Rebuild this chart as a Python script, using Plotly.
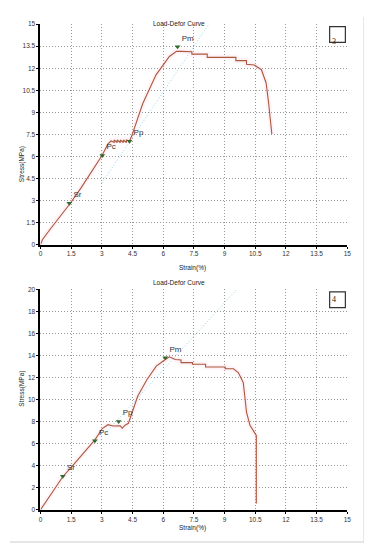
import plotly.graph_objects as go

W, H = 372, 550
OFF = 8  # page body margin

# ---------------- data ----------------
tick_vals_x = [0, 1.5, 3, 4.5, 6, 7.5, 9, 10.5, 12, 13.5, 15]
tick_text_x = ["0", "1.5", "3", "4.5", "6", "7.5", "9", "10.5", "12", "13.5", "15"]
tick_vals_y1 = [0, 1.5, 3, 4.5, 6, 7.5, 9, 10.5, 12, 13.5, 15]
tick_text_y1 = ["0", "1.5", "3", "4.5", "6", "7.5", "9", "10.5", "12", "13.5", "15"]
tick_vals_y2 = [0, 2, 4, 6, 8, 10, 12, 14, 16, 18, 20]
tick_text_y2 = ["0", "2", "4", "6", "8", "10", "12", "14", "16", "18", "20"]

# Specimen 3
strain3 = [0, 0.1, 0.5, 1.0, 1.45, 2.0, 2.5, 3.0, 3.3, 3.45, 3.6, 3.6, 3.75, 3.75, 3.9, 3.9,
           4.05, 4.05, 4.2, 4.2, 4.35, 4.45, 5.0, 5.65, 6.3, 6.65, 6.9, 7.4, 7.4, 8.15, 8.15,
           9.55, 9.55, 10.07, 10.07, 10.45, 10.8, 11.03, 11.15, 11.31]
stress3 = [0, 0.35, 1.1, 2.0, 2.8, 3.9, 4.95, 6.05, 6.85, 7.05, 6.95, 7.12, 6.95, 7.12, 6.95, 7.12,
           6.95, 7.12, 6.95, 7.12, 7.05, 7.35, 9.6, 11.55, 12.8, 13.15, 13.15, 13.12, 12.96, 12.96, 12.74,
           12.74, 12.52, 12.52, 12.27, 12.22, 11.9, 11.0, 9.65, 7.52]
fit3_strain = [3.0, 8.23]
fit3_stress = [4.2, 15.0]
pts3_name = ["Sr", "Pc", "Pp", "Pm"]
pts3_strain = [1.41, 3.02, 4.35, 6.70]
pts3_stress = [2.82, 6.07, 7.03, 13.46]

# Specimen 4
strain4 = [0, 0.5, 1.09, 1.5, 2.0, 2.66, 3.02, 3.3, 3.55, 3.9, 4.0, 4.15, 4.3, 4.55, 4.75, 5.2,
           5.66, 6.0, 6.3, 6.59, 6.87, 6.87, 7.43, 7.43, 8.07, 8.07, 9.03, 9.03, 9.43, 9.67, 9.91,
           10.02, 10.07, 10.24, 10.51, 10.55, 10.55]
stress4 = [0, 1.35, 3.0, 3.85, 4.9, 6.35, 7.37, 7.72, 7.6, 7.62, 7.4, 7.7, 7.85, 9.2, 10.3, 11.8,
           13.04, 13.5, 13.88, 13.64, 13.6, 13.35, 13.35, 13.2, 13.2, 12.95, 12.95, 12.8, 12.8, 12.45, 11.55,
           9.76, 8.87, 7.67, 6.77, 6.75, 0.56]
fit4_strain = [3.2, 9.59]
fit4_stress = [7.0, 20.0]
pts4_name = ["Sr", "Pc", "Pp", "Pm"]
pts4_strain = [1.09, 2.66, 3.82, 6.10]
pts4_stress = [3.04, 6.27, 8.02, 13.79]

# ---------------- layout helpers ----------------
X0, X1 = 39, 351
top_y = (20.3, 243.7)
bot_y = (289.0, 512.3)
FW, FH = W - OFF, H - OFF

def px(x):
    return (x - OFF) / FW

def py(y):
    return 1 - (y - OFF) / FH

CURVE = "#a9583c"
FIT = "#8fd8e8"
FONT = "Liberation Sans"

fig = go.Figure()

panels = [
    ("", "", strain3, stress3, fit3_strain, fit3_stress, pts3_name, pts3_strain, pts3_stress),
    ("2", "2", strain4, stress4, fit4_strain, fit4_stress, pts4_name, pts4_strain, pts4_stress),
]
for xs, ys, sx, sy, fx, fy, nm, mx, my in panels:
    fig.add_trace(go.Scatter(x=fx, y=fy, mode="lines", xaxis="x" + xs, yaxis="y" + ys,
                             line=dict(color=FIT, width=1, dash="1px,2px"), hoverinfo="skip"))
    fig.add_trace(go.Scatter(x=sx, y=sy, mode="lines", xaxis="x" + xs, yaxis="y" + ys,
                             line=dict(color="rgba(255,190,210,0.18)", width=5), hoverinfo="skip"))
    fig.add_trace(go.Scatter(x=sx, y=sy, mode="lines", xaxis="x" + xs, yaxis="y" + ys,
                             line=dict(color=CURVE, width=1.1)))
    fig.add_trace(go.Scatter(x=mx, y=my, mode="markers+text", text=nm, textposition="top right",
                             xaxis="x" + xs, yaxis="y" + ys,
                             textfont=dict(family=FONT, size=8, color="#333"),
                             marker=dict(symbol="triangle-down", size=5, color="#2f6a2f")))

axis_common = dict(showgrid=True, gridcolor="#999999", griddash="1px,2px", gridwidth=1,
                   showline=True, linecolor="black", linewidth=2, zeroline=False,
                   ticks="outside", ticklen=2, tickcolor="black",
                   tickfont=dict(family=FONT, size=6.5, color="#333"))

fig.update_layout(
    width=FW, height=FH, margin=dict(l=0, r=0, t=0, b=0),
    paper_bgcolor="white", plot_bgcolor="white", showlegend=False,
    xaxis=dict(domain=[px(X0), px(X1)], range=[0, 15], anchor="y",
               tickvals=tick_vals_x, ticktext=tick_text_x, **axis_common),
    yaxis=dict(domain=[py(top_y[1]), py(top_y[0])], range=[0, 15], anchor="x",
               tickvals=tick_vals_y1, ticktext=tick_text_y1, **axis_common),
    xaxis2=dict(domain=[px(X0), px(X1)], range=[0, 15], anchor="y2",
                tickvals=tick_vals_x, ticktext=tick_text_x, **axis_common),
    yaxis2=dict(domain=[py(bot_y[1]), py(bot_y[0])], range=[0, 20], anchor="x2",
                tickvals=tick_vals_y2, ticktext=tick_text_y2, **axis_common),
)

annots = []
shapes = []
for (yt, yb), num, title_y, xl_y, yl_y in [(top_y, "3", 14, 267, 142), (bot_y, "4", 282, 537, 410)]:
    annots.append(dict(text="Load-Defor Curve", x=px(180), y=py(title_y), xref="paper", yref="paper",
                       showarrow=False, font=dict(family=FONT, size=6.5, color="#222")))
    annots.append(dict(text="Strain(%)", x=px(194), y=py(xl_y), xref="paper", yref="paper",
                       showarrow=False, font=dict(family=FONT, size=6.5, color="#222")))
    annots.append(dict(text="Stress(MPa)", x=px(14), y=py(yl_y), xref="paper", yref="paper",
                       showarrow=False, textangle=-90, font=dict(family=FONT, size=6.5, color="#222")))
    annots.append(dict(text=num, x=px(341), y=py(yt + 10.5), xref="paper", yref="paper",
                       showarrow=False, font=dict(family="Liberation Serif", size=8, color="#222")))
    shapes.append(dict(type="rect", xref="paper", yref="paper",
                       x0=px(333), x1=px(349), y0=py(yt + 2.5), y1=py(yt + 18.5),
                       line=dict(color="#333", width=1.2)))
# outer light frame
shapes.append(dict(type="line", xref="paper", yref="paper", x0=px(368), x1=px(368), y0=py(13), y1=py(545),
                   line=dict(color="#dddddd", width=1.5)))
shapes.append(dict(type="line", xref="paper", yref="paper", x0=px(8), x1=px(368), y0=py(545), y1=py(545),
                   line=dict(color="#dddddd", width=1.5)))

fig.update_layout(annotations=annots, shapes=shapes)
fig.write_html("out.html")
